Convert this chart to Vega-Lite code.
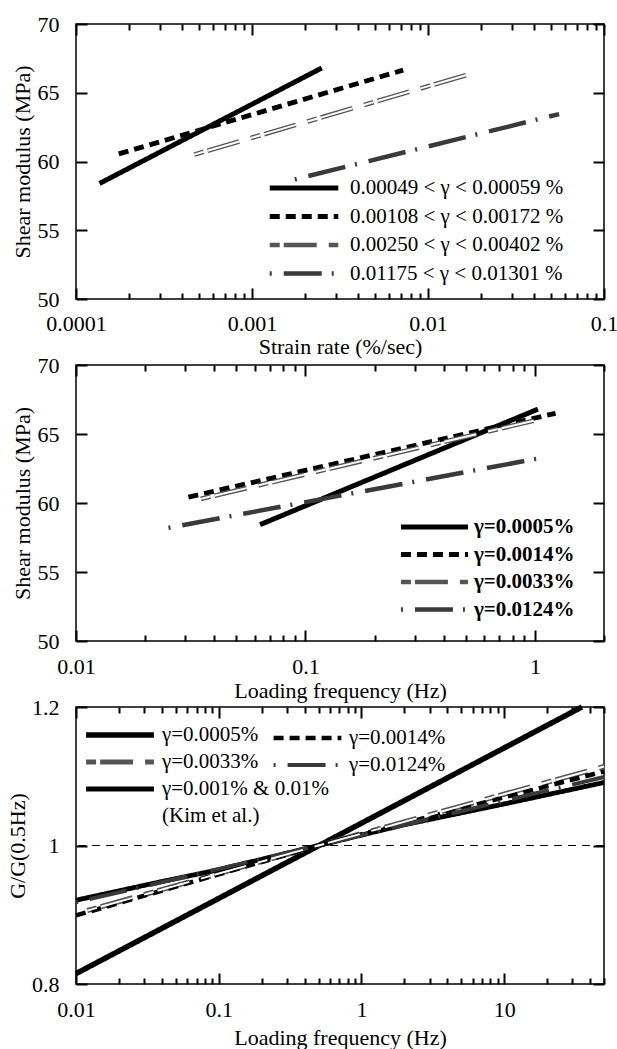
{
  "$schema": "https://vega.github.io/schema/vega-lite/v6.json",
  "background": "white",
  "padding": {"left": 5, "top": 12, "right": 2, "bottom": 2},
  "config": {
    "font": "Liberation Serif",
    "view": {"stroke": "black", "strokeWidth": 1.5},
    "axis": {"grid": false, "domain": false, "ticks": true, "zindex": 1, "labelFont": "Liberation Serif", "labelFontSize": 22, "labelColor": "black", "titleFont": "Liberation Serif", "titleFontSize": 22, "titleFontWeight": "normal", "titleColor": "black", "tickColor": "#000000", "tickOpacity": 1, "tickWidth": 2, "labelFlush": false, "labelOverlap": false, "labelBound": false},
    "legend": {"labelFont": "Liberation Serif", "labelFontSize": 21, "labelColor": "black", "symbolType": "stroke", "clipHeight": 22, "labelLimit": 0}
  },
  "datasets": {
    "p1": [
      {"series": "0.00049 < γ < 0.00059 %", "x": 0.000136, "y": 58.4},
      {"series": "0.00049 < γ < 0.00059 %", "x": 0.00249, "y": 66.8},
      {"series": "0.00108 < γ < 0.00172 %", "x": 0.000175, "y": 60.55},
      {"series": "0.00108 < γ < 0.00172 %", "x": 0.00723, "y": 66.65},
      {"series": "0.00250 < γ < 0.00402 %", "x": 0.000469, "y": 60.5},
      {"series": "0.00250 < γ < 0.00402 %", "x": 0.0177, "y": 66.4},
      {"series": "0.01175 < γ < 0.01301 %", "x": 0.00175, "y": 58.7},
      {"series": "0.01175 < γ < 0.01301 %", "x": 0.0556, "y": 63.45}
    ],
    "p2": [
      {"series": "γ=0.0005%", "x": 0.0634, "y": 58.43},
      {"series": "γ=0.0005%", "x": 1.03, "y": 66.8},
      {"series": "γ=0.0014%", "x": 0.0309, "y": 60.43},
      {"series": "γ=0.0014%", "x": 1.23, "y": 66.5},
      {"series": "γ=0.0033%", "x": 0.035, "y": 60.3},
      {"series": "γ=0.0033%", "x": 1.07, "y": 66.1},
      {"series": "γ=0.0124%", "x": 0.0253, "y": 58.2},
      {"series": "γ=0.0124%", "x": 1.05, "y": 63.25}
    ],
    "p3": [
      {"series": "γ=0.0005%", "x": 0.01, "y": 0.815},
      {"series": "γ=0.0005%", "x": 35, "y": 1.2},
      {"series": "γ=0.0014%", "x": 0.01, "y": 0.899},
      {"series": "γ=0.0014%", "x": 0.5, "y": 1.0},
      {"series": "γ=0.0014%", "x": 50, "y": 1.107},
      {"series": "γ=0.0033%", "x": 0.012, "y": 0.906},
      {"series": "γ=0.0033%", "x": 0.5, "y": 1.0},
      {"series": "γ=0.0033%", "x": 50, "y": 1.114},
      {"series": "γ=0.0124%", "x": 0.01, "y": 0.918},
      {"series": "γ=0.0124%", "x": 0.5, "y": 1.0},
      {"series": "γ=0.0124%", "x": 50, "y": 1.099},
      {"series": "γ=0.001% & 0.01%", "x": 0.01, "y": 0.921},
      {"series": "γ=0.001% & 0.01%", "x": 0.04, "y": 0.948},
      {"series": "γ=0.001% & 0.01%", "x": 0.1, "y": 0.965},
      {"series": "γ=0.001% & 0.01%", "x": 0.5, "y": 1.0},
      {"series": "γ=0.001% & 0.01%", "x": 2, "y": 1.03},
      {"series": "γ=0.001% & 0.01%", "x": 10, "y": 1.06},
      {"series": "γ=0.001% & 0.01%", "x": 50, "y": 1.091}
    ]
  },
  "bounds": "flush",
  "spacing": 66,
  "resolve": {"scale": {"x": "independent", "y": "independent", "color": "independent", "strokeDash": "independent", "strokeWidth": "independent"}, "legend": {"color": "independent", "strokeDash": "independent", "strokeWidth": "independent"}},
  "vconcat": [
    {
      "width": 528, "height": 275,
      "data": {"name": "p1"},
      "resolve": {"axis": {"x": "independent", "y": "independent"}},
      "layer": [
        {
          "mark": {"type": "line", "strokeCap": "butt"},
          "encoding": {
            "x": {"field": "x", "type": "quantitative", "title": "Strain rate (%/sec)",
              "scale": {"type": "log", "domain": [0.0001, 0.1]},
              "axis": {"orient": "bottom", "values": [0.0001,0.0002,0.0003,0.0004,0.0005,0.0006,0.0007,0.0008,0.0009,0.001,0.002,0.003,0.004,0.005,0.006,0.007,0.008,0.009,0.01,0.02,0.03,0.04,0.05,0.06,0.07,0.08,0.09,0.1],
                "labelExpr": "abs(log(datum.value)/LN10-round(log(datum.value)/LN10))<0.001 ? format(datum.value, '~g') : ''",
                "tickSize": {"condition": {"test": "abs(log(datum.value)/LN10-round(log(datum.value)/LN10))<0.001", "value": -11}, "value": -6},
                "labelPadding": 25, "titlePadding": -3}},
            "y": {"field": "y", "type": "quantitative", "title": "Shear modulus (MPa)",
              "scale": {"domain": [50, 70]},
              "axis": {"orient": "left", "values": [50,55,60,65,70], "tickSize": -11, "labelPadding": 28, "titlePadding": 3}},
            "color": {"field": "series", "type": "ordinal",
              "scale": {"domain": ["0.00049 < γ < 0.00059 %", "0.00108 < γ < 0.00172 %", "0.00250 < γ < 0.00402 %", "0.01175 < γ < 0.01301 %"], "range": ["black", "black", "#555555", "#3a3a3a"]},
              "legend": {"orient": "none", "legendX": 191, "legendY": 153, "title": null, "symbolSize": 4700, "labelOffset": 9, "rowPadding": 6.5}},
            "strokeDash": {"field": "series", "type": "ordinal",
              "scale": {"domain": ["0.00049 < γ < 0.00059 %", "0.00108 < γ < 0.00172 %", "0.00250 < γ < 0.00402 %", "0.01175 < γ < 0.01301 %"], "range": [[1, 0], [10, 6], [10, 4, 33, 12], [2, 12, 38, 10]]},
              "legend": {"orient": "none", "legendX": 191, "legendY": 153, "title": null, "symbolSize": 4700, "labelOffset": 9, "rowPadding": 6.5}},
            "strokeWidth": {"field": "series", "type": "ordinal",
              "scale": {"domain": ["0.00049 < γ < 0.00059 %", "0.00108 < γ < 0.00172 %", "0.00250 < γ < 0.00402 %", "0.01175 < γ < 0.01301 %"], "range": [5, 4.5, 4.5, 4]},
              "legend": {"orient": "none", "legendX": 191, "legendY": 153, "title": null, "symbolSize": 4700, "labelOffset": 9, "rowPadding": 6.5}}
          }
        },
        {
          "transform": [{"filter": "datum.series == '0.00250 < γ < 0.00402 %'"}],
          "mark": {"type": "line", "color": "white", "strokeWidth": 2, "strokeDash": [10, 4, 33, 12], "strokeCap": "butt"},
          "encoding": {
            "x": {"field": "x", "type": "quantitative", "scale": {"type": "log", "domain": [0.0001, 0.1]},
              "axis": {"orient": "top", "labels": false, "title": null, "values": [0.0001,0.0002,0.0003,0.0004,0.0005,0.0006,0.0007,0.0008,0.0009,0.001,0.002,0.003,0.004,0.005,0.006,0.007,0.008,0.009,0.01,0.02,0.03,0.04,0.05,0.06,0.07,0.08,0.09,0.1],
                "tickSize": {"condition": {"test": "abs(log(datum.value)/LN10-round(log(datum.value)/LN10))<0.001", "value": -11}, "value": -6}}},
            "y": {"field": "y", "type": "quantitative", "scale": {"domain": [50, 70]},
              "axis": {"orient": "right", "labels": false, "title": null, "values": [50,55,60,65,70], "tickSize": -11}}
          }
        }
      ]
    },
    {
      "width": 528, "height": 276,
      "data": {"name": "p2"},
      "resolve": {"axis": {"x": "independent", "y": "independent"}},
      "layer": [
        {
          "mark": {"type": "line", "strokeCap": "butt"},
          "encoding": {
            "x": {"field": "x", "type": "quantitative", "title": "Loading frequency (Hz)",
              "scale": {"type": "log", "domain": [0.01, 2]},
              "axis": {"orient": "bottom", "values": [0.01,0.02,0.03,0.04,0.05,0.06,0.07,0.08,0.09,0.1,0.2,0.3,0.4,0.5,0.6,0.7,0.8,0.9,1,2],
                "labelExpr": "abs(log(datum.value)/LN10-round(log(datum.value)/LN10))<0.001 ? format(datum.value, '~g') : ''",
                "tickSize": {"condition": {"test": "abs(log(datum.value)/LN10-round(log(datum.value)/LN10))<0.001", "value": -11}, "value": -6},
                "labelPadding": 26, "titlePadding": -2}},
            "y": {"field": "y", "type": "quantitative", "title": "Shear modulus (MPa)",
              "scale": {"domain": [50, 70]},
              "axis": {"orient": "left", "values": [50,55,60,65,70], "tickSize": -11, "labelPadding": 28, "titlePadding": 3}},
            "color": {"field": "series", "type": "ordinal",
              "scale": {"domain": ["γ=0.0005%", "γ=0.0014%", "γ=0.0033%", "γ=0.0124%"], "range": ["black", "black", "#555555", "#3a3a3a"]},
              "legend": {"orient": "none", "legendX": 322, "legendY": 151, "title": null, "symbolSize": 4500, "labelOffset": 3, "rowPadding": 5.5, "labelFontWeight": "bold"}},
            "strokeDash": {"field": "series", "type": "ordinal",
              "scale": {"domain": ["γ=0.0005%", "γ=0.0014%", "γ=0.0033%", "γ=0.0124%"], "range": [[1, 0], [10, 6], [10, 4, 33, 12], [2, 12, 38, 10]]},
              "legend": {"orient": "none", "legendX": 322, "legendY": 151, "title": null, "symbolSize": 4500, "labelOffset": 3, "rowPadding": 5.5, "labelFontWeight": "bold"}},
            "strokeWidth": {"field": "series", "type": "ordinal",
              "scale": {"domain": ["γ=0.0005%", "γ=0.0014%", "γ=0.0033%", "γ=0.0124%"], "range": [5, 4.5, 4.5, 4]},
              "legend": {"orient": "none", "legendX": 322, "legendY": 151, "title": null, "symbolSize": 4500, "labelOffset": 3, "rowPadding": 5.5, "labelFontWeight": "bold"}}
          }
        },
        {
          "transform": [{"filter": "datum.series == 'γ=0.0033%'"}],
          "mark": {"type": "line", "color": "white", "strokeWidth": 2, "strokeDash": [10, 4, 33, 12], "strokeCap": "butt"},
          "encoding": {
            "x": {"field": "x", "type": "quantitative", "scale": {"type": "log", "domain": [0.01, 2]},
              "axis": {"orient": "top", "labels": false, "title": null, "values": [0.01,0.02,0.03,0.04,0.05,0.06,0.07,0.08,0.09,0.1,0.2,0.3,0.4,0.5,0.6,0.7,0.8,0.9,1,2],
                "tickSize": {"condition": {"test": "abs(log(datum.value)/LN10-round(log(datum.value)/LN10))<0.001", "value": -11}, "value": -6}}},
            "y": {"field": "y", "type": "quantitative", "scale": {"domain": [50, 70]},
              "axis": {"orient": "right", "labels": false, "title": null, "values": [50,55,60,65,70], "tickSize": -11}}
          }
        }
      ]
    },
    {
      "width": 528, "height": 277,
      "data": {"name": "p3"},
      "resolve": {"axis": {"x": "independent", "y": "independent"}, "scale": {"color": "independent", "strokeDash": "independent", "strokeWidth": "independent"}, "legend": {"color": "independent", "strokeDash": "independent", "strokeWidth": "independent"}},
      "layer": [
        {
          "mark": {"type": "rule", "strokeDash": [8, 6], "strokeWidth": 1, "color": "black"},
          "encoding": {"y": {"datum": 1, "type": "quantitative", "scale": {"domain": [0.8, 1.2]}, "axis": null}}
        },
        {
          "transform": [{"filter": "datum.series == 'γ=0.0005%' || datum.series == 'γ=0.0033%' || datum.series == 'γ=0.001% & 0.01%'"}],
          "mark": {"type": "line", "strokeCap": "butt"},
          "encoding": {
            "x": {"field": "x", "type": "quantitative", "title": "Loading frequency (Hz)",
              "scale": {"type": "log", "domain": [0.01, 50]},
              "axis": {"orient": "bottom", "values": [0.01,0.02,0.03,0.04,0.05,0.06,0.07,0.08,0.09,0.1,0.2,0.3,0.4,0.5,0.6,0.7,0.8,0.9,1,2,3,4,5,6,7,8,9,10,20,30,40,50],
                "labelExpr": "abs(log(datum.value)/LN10-round(log(datum.value)/LN10))<0.001 ? format(datum.value, '~g') : ''",
                "tickSize": {"condition": {"test": "abs(log(datum.value)/LN10-round(log(datum.value)/LN10))<0.001", "value": -11}, "value": -6},
                "labelPadding": 26, "titlePadding": 2}},
            "y": {"field": "y", "type": "quantitative", "title": "G/G(0.5Hz)",
              "scale": {"domain": [0.8, 1.2]},
              "axis": {"orient": "left", "values": [0.8, 1, 1.2], "format": "~g", "tickSize": -11, "labelPadding": 28, "titlePadding": 2}},
            "color": {"field": "series", "type": "ordinal",
              "scale": {"domain": ["γ=0.0005%", "γ=0.0033%", "γ=0.001% & 0.01%", "(Kim et al.)"], "range": ["black", "#555555", "black", "transparent"]},
              "legend": {"orient": "none", "legendX": 7, "legendY": 17, "title": null, "symbolSize": 4600, "labelOffset": 5, "rowPadding": 5}},
            "strokeDash": {"field": "series", "type": "ordinal",
              "scale": {"domain": ["γ=0.0005%", "γ=0.0033%", "γ=0.001% & 0.01%", "(Kim et al.)"], "range": [[1, 0], [10, 4, 33, 12], [1, 0], [1, 0]]},
              "legend": {"orient": "none", "legendX": 7, "legendY": 17, "title": null, "symbolSize": 4600, "labelOffset": 5, "rowPadding": 5}},
            "strokeWidth": {"field": "series", "type": "ordinal",
              "scale": {"domain": ["γ=0.0005%", "γ=0.0033%", "γ=0.001% & 0.01%", "(Kim et al.)"], "range": [5.5, 4.5, 2, 0]},
              "legend": {"orient": "none", "legendX": 7, "legendY": 17, "title": null, "symbolSize": 4600, "labelOffset": 5, "rowPadding": 5}}
          }
        },
        {
          "transform": [{"filter": "datum.series == 'γ=0.0014%' || datum.series == 'γ=0.0124%'"}],
          "mark": {"type": "line", "strokeCap": "butt"},
          "encoding": {
            "x": {"field": "x", "type": "quantitative", "scale": {"type": "log", "domain": [0.01, 50]}, "axis": null},
            "y": {"field": "y", "type": "quantitative", "scale": {"domain": [0.8, 1.2]}, "axis": null},
            "color": {"field": "series", "type": "ordinal",
              "scale": {"domain": ["γ=0.0014%", "γ=0.0124%"], "range": ["black", "#3a3a3a"]},
              "legend": {"orient": "none", "legendX": 195, "legendY": 20, "title": null, "symbolSize": 4600, "labelOffset": 5, "rowPadding": 5}},
            "strokeDash": {"field": "series", "type": "ordinal",
              "scale": {"domain": ["γ=0.0014%", "γ=0.0124%"], "range": [[10, 6], [2, 12, 38, 10]]},
              "legend": {"orient": "none", "legendX": 195, "legendY": 20, "title": null, "symbolSize": 4600, "labelOffset": 5, "rowPadding": 5}},
            "strokeWidth": {"field": "series", "type": "ordinal",
              "scale": {"domain": ["γ=0.0014%", "γ=0.0124%"], "range": [4.5, 4]},
              "legend": {"orient": "none", "legendX": 195, "legendY": 20, "title": null, "symbolSize": 4600, "labelOffset": 5, "rowPadding": 5}}
          }
        },
        {
          "transform": [{"filter": "datum.series == 'γ=0.0033%'"}],
          "mark": {"type": "line", "color": "white", "strokeWidth": 2, "strokeDash": [10, 4, 33, 12], "strokeCap": "butt"},
          "encoding": {
            "x": {"field": "x", "type": "quantitative", "scale": {"type": "log", "domain": [0.01, 50]},
              "axis": {"orient": "top", "labels": false, "title": null, "values": [0.01,0.02,0.03,0.04,0.05,0.06,0.07,0.08,0.09,0.1,0.2,0.3,0.4,0.5,0.6,0.7,0.8,0.9,1,2,3,4,5,6,7,8,9,10,20,30,40,50],
                "tickSize": {"condition": {"test": "abs(log(datum.value)/LN10-round(log(datum.value)/LN10))<0.001", "value": -11}, "value": -6}}},
            "y": {"field": "y", "type": "quantitative", "scale": {"domain": [0.8, 1.2]},
              "axis": {"orient": "right", "labels": false, "title": null, "values": [0.8, 1, 1.2], "tickSize": -11}}
          }
        }
      ]
    }
  ]
}
